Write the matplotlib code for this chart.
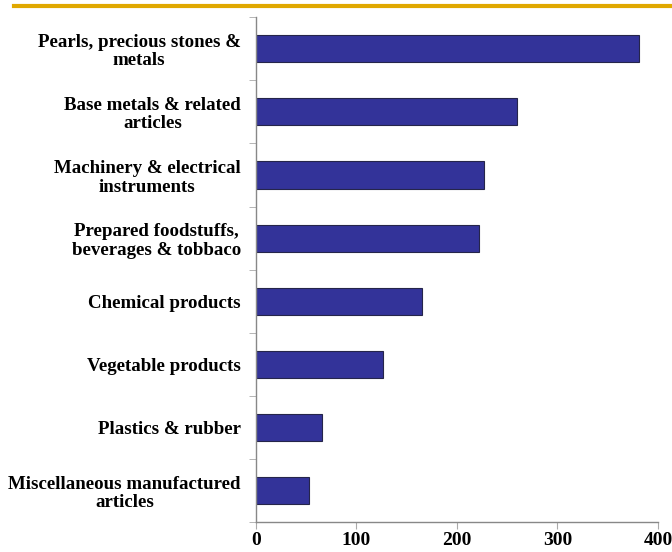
import matplotlib.pyplot as plt
from matplotlib.lines import Line2D
import numpy as np

categories = [
    'Pearls, precious stones &\nmetals',
    'Base metals & related\narticles',
    'Machinery & electrical\ninstruments',
    'Prepared foodstuffs,\nbeverages & tobbaco',
    'Chemical products',
    'Vegetable products',
    'Plastics & rubber',
    'Miscellaneous manufactured\narticles',
]
values = [381, 260, 227, 222, 165, 126, 66, 53]
xticks = [0, 100, 200, 300, 400]

plt.rcParams['font.family'] = ['Liberation Serif', 'DejaVu Serif']
plt.rcParams['font.weight'] = 'bold'

fig = plt.figure(figsize=(6.72, 5.52), dpi=100)
ax = fig.add_axes([0.381, 0.054, 0.598, 0.915])

pos = np.arange(len(categories))
ax.barh(pos, values, height=0.43, color='#333399', edgecolor='#25254a', linewidth=0.8)

ax.set_ylim(len(categories) - 0.5, -0.5)
ax.set_xlim(0, 400)
ax.set_xticks(xticks)
ax.set_xticklabels([str(t) for t in xticks], fontsize=14, fontweight='bold')

ax.set_yticks(pos)
ax.set_yticklabels(categories, fontsize=13.6, fontweight='bold')
for lab in ax.get_yticklabels():
    lab.set_multialignment('center')
    lab.set_linespacing(1.12)
ax.tick_params(axis='y', which='major', length=0, pad=11)
ax.set_yticks(np.arange(len(categories) + 1) - 0.5, minor=True)
ax.tick_params(axis='y', which='minor', length=5, color='#aaaaaa', direction='out')
ax.tick_params(axis='x', length=5, color='#aaaaaa', direction='out', pad=2)

for side in ['top', 'right']:
    ax.spines[side].set_visible(False)
for side in ['left', 'bottom']:
    ax.spines[side].set_color('#888888')
    ax.spines[side].set_linewidth(1.0)

# gold rule across the top of the slide
fig.add_artist(Line2D([14 / 672, 1.0], [1 - 6 / 552, 1 - 6 / 552],
                      transform=fig.transFigure, color='#E0A800', linewidth=3))

fig.savefig('out.png', dpi=100)
